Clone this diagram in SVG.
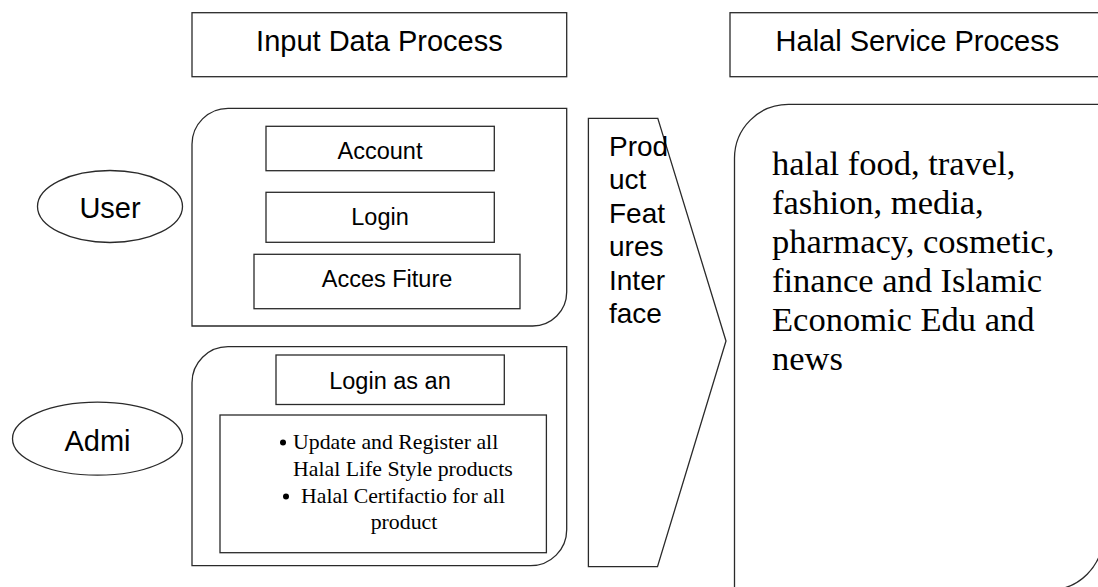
<svg xmlns="http://www.w3.org/2000/svg" width="1098" height="587" viewBox="0 0 1098 587">
<style>
.s{fill:#fff;stroke:#2a2a2a;stroke-width:1.3}
.a{font-family:"Liberation Sans",Arial,sans-serif;fill:#000}
.h{font-size:29px;text-anchor:middle}
.m{font-size:23.5px;text-anchor:middle}
.p{font-size:28px}
.t{font-family:"Liberation Serif","Times New Roman",serif;fill:#000}
.b{font-size:34.5px}
.c{font-size:21.8px}
.d{fill:#000}
</style>
<rect width="1098" height="587" fill="#fff"/>
<g id="header-input">
<rect class="s" x="192" y="12.7" width="374.7" height="64"/>
<text class="a h" x="379.4" y="51">Input Data Process</text>
</g>
<g id="header-halal">
<rect class="s" x="730" y="12.7" width="375" height="64"/>
<text class="a h" x="917.4" y="51">Halal Service Process</text>
</g>
<g id="user">
<ellipse class="s" cx="110" cy="206.5" rx="72.5" ry="36"/>
<text class="a h" x="110" y="218.3">User</text>
</g>
<g id="admi">
<ellipse class="s" cx="97.5" cy="438.7" rx="85" ry="36.5"/>
<text class="a h" x="97.5" y="451">Admi</text>
</g>
<g id="user-panel">
<path class="s" d="M192,326 L192,144.3 A36,36 0 0 1 228,108.3 L566.7,108.3 L566.7,292 A34,34 0 0 1 532.7,326 Z"/>
<g id="account">
<rect class="s" x="266" y="126.3" width="228.3" height="44.4"/>
<text class="a m" x="380" y="159">Account</text>
</g>
<g id="login">
<rect class="s" x="266" y="192.3" width="228.3" height="50"/>
<text class="a m" x="380" y="225">Login</text>
</g>
<g id="acces-fiture">
<rect class="s" x="254" y="254.3" width="266" height="54.4"/>
<text class="a m" x="387" y="287">Acces Fiture</text>
</g>
</g>
<g id="admin-panel">
<path class="s" d="M192,565.7 L192,382.7 A36,36 0 0 1 228,346.7 L566.7,346.7 L566.7,529.7 A36,36 0 0 1 530.7,565.7 Z"/>
<g id="login-admin">
<rect class="s" x="276" y="355" width="228.3" height="49.5"/>
<text class="a m" x="390" y="389">Login as an</text>
</g>
<g id="admin-tasks">
<rect class="s" x="220" y="415" width="326.4" height="137.7"/>
<circle class="d" cx="283" cy="442.5" r="3"/>
<text class="t c" x="293" y="449">Update and Register all</text>
<text class="t c" x="293" y="476">Halal Life Style products</text>
<circle class="d" cx="286" cy="496.5" r="3"/>
<text class="t c" x="301" y="503">Halal Certifactio for all</text>
<text class="t c" x="404" y="529" text-anchor="middle">product</text>
</g>
</g>
<g id="product-features">
<polygon class="s" points="588.4,118.3 657.8,118.3 726,341 657.5,566.7 588.4,566.7"/>
<text class="a p" x="609" y="156">Prod</text>
<text class="a p" x="609" y="189.4">uct</text>
<text class="a p" x="609" y="222.8">Feat</text>
<text class="a p" x="609" y="256.2">ures</text>
<text class="a p" x="609" y="289.6">Inter</text>
<text class="a p" x="609" y="323">face</text>
</g>
<g id="halal-services">
<path class="s" d="M734.5,590 L734.5,158.3 A54,54 0 0 1 788.5,104.3 L1103,104.3 L1103,536 A54,54 0 0 1 1049,590 Z"/>
<text class="t b" x="772" y="175">halal food, travel,</text>
<text class="t b" x="772" y="214">fashion, media,</text>
<text class="t b" x="772" y="253">pharmacy, cosmetic,</text>
<text class="t b" x="772" y="292">finance and Islamic</text>
<text class="t b" x="772" y="331">Economic Edu and</text>
<text class="t b" x="772" y="370">news</text>
</g>
<g id="connectors"></g>
</svg>
